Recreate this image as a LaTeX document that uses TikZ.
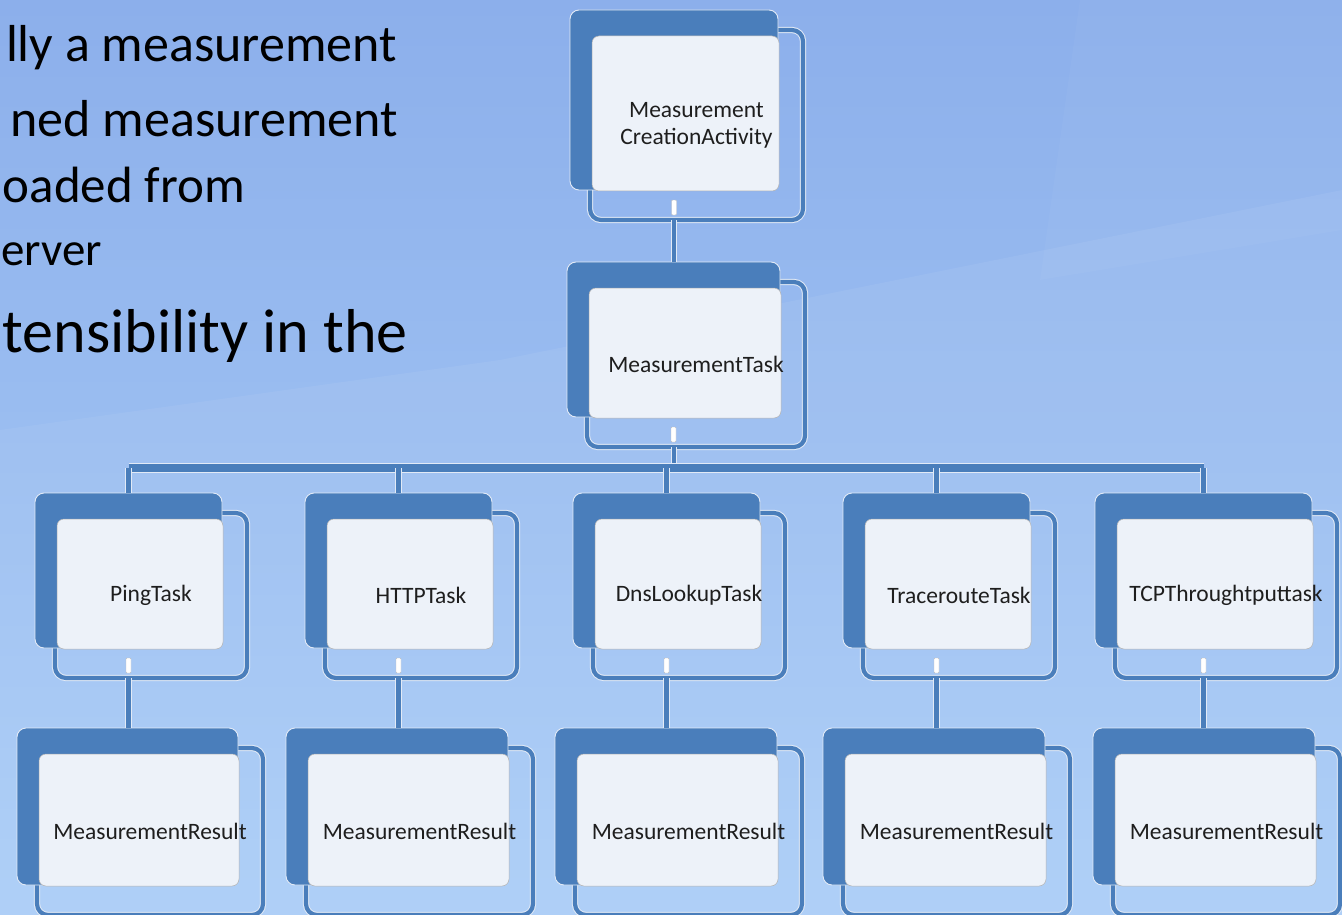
\documentclass[tikz,border=0pt]{standalone}
\usepackage{fontspec}
\setmainfont{Carlito}
\usetikzlibrary{calc}

\definecolor{bgtop}{HTML}{8CAFEB}
\definecolor{bgbot}{HTML}{AACDF7}
\definecolor{accent}{HTML}{4A7EBB}
\definecolor{rim}{HTML}{E2EAF6}
\definecolor{paper}{HTML}{EDF2F9}
\definecolor{ink}{HTML}{1E1E1E}

\tikzset{
  x=1pt, y=-1pt,
  darkbox/.style={rectangle, rounded corners=9pt, fill=accent, draw=rim, line width=0.9pt,
                  inner sep=0pt, outer sep=0pt},
  paperbox/.style={rectangle, rounded corners=7pt, fill=paper, draw=black!30, line width=0.5pt,
                   inner sep=0pt, outer sep=0pt},
  framebox/.style={rectangle, rounded corners=11pt, draw=rim, double=accent, double distance=4.2pt,
                   line width=1pt, inner sep=0pt, outer sep=0pt},
  tabbox/.style={rectangle, rounded corners=1pt, fill=white, draw=black!25, line width=0.4pt,
                 minimum width=5pt, inner sep=0pt, outer sep=0pt},
  caption/.style={text=ink, font=\fontsize{23.5}{27}\selectfont, align=center, inner sep=0pt},
  link/.style={draw=rim, double=accent, double distance=4.4pt, line width=0.9pt},
  busline/.style={draw=rim, double=accent, double distance=8pt, line width=1pt},
  slidetext/.style={text=black, inner sep=0pt, anchor=base east},
}

% a leaf entry: outline frame, back panel, front card and caption
% #1 name, #2 x, #3 y, #4 width, #5 height, #6 caption
\newcommand\leaf[6]{%
  \node[framebox, minimum width=#4+5, minimum height=#5+10, anchor=north west] (#1-f) at (#2+20,#3+20) {};
  \node[darkbox, minimum width=#4, minimum height=#5, anchor=north west] (#1-d) at (#2,#3) {};
  \node[paperbox, minimum width=#4-21, minimum height=#5-25, anchor=north west] (#1-w) at (#2+22,#3+26) {};
  \node[caption] (#1) at (#1-f.center) {#6};
}
% an entry with children also carries the small tab under its card
\newcommand\entry[6]{%
  \leaf{#1}{#2}{#3}{#4}{#5}{#6}
  \node[tabbox, minimum height=15, anchor=north] (#1-t) at (#2+#4/2,#3+#5+10) {};
}

\begin{document}
\begin{tikzpicture}
  \useasboundingbox (0,0) rectangle (1342,915);
  \clip (0,0) rectangle (1342,915);

  % slide background
  \shade[top color=bgtop, bottom color=bgbot] (0,0) rectangle (1342,915);
  \fill[white, opacity=0.06] (0,430) -- (500,360) -- (1342,190) -- (1342,915) -- (0,915) -- cycle;
  \fill[white, opacity=0.03] (1080,0) -- (1342,0) -- (1342,230) -- (1040,280) -- cycle;

  % bullet text on the left
  \node[slidetext, font=\fontsize{52}{60}\selectfont] (l1) at (397,62) {lly a measurement};
  \node[slidetext, font=\fontsize{52}{60}\selectfont] (l2) at (398,137) {ned measurement};
  \node[slidetext, font=\fontsize{51}{60}\selectfont] (l3) at (245,202) {oaded from};
  \node[slidetext, font=\fontsize{47}{60}\selectfont] (l4) at (102,265) {erver};
  \node[slidetext, font=\fontsize{62}{72}\selectfont] (l5) at (408,352) {tensibility in the};

  % hierarchy panels
  \entry{act}{570}{10}{208}{180}{Measurement\\CreationActivity}
  \entry{task}{567}{262}{213}{155}{MeasurementTask}

  \entry{ping}{35}{493}{187}{155}{PingTask}
  \entry{http}{305}{493}{187}{155}{HTTPTask}
  \entry{dns}{573}{493}{187}{155}{DnsLookupTask}
  \entry{trace}{843}{493}{187}{155}{TracerouteTask}
  \entry{tcp}{1095}{493}{217}{155}{TCPThroughtputtask}

  \leaf{res1}{17}{728}{221}{157}{MeasurementResult}
  \leaf{res2}{286}{728}{222}{157}{MeasurementResult}
  \leaf{res3}{555}{728}{222}{157}{MeasurementResult}
  \leaf{res4}{823}{728}{222}{157}{MeasurementResult}
  \leaf{res5}{1093}{728}{222}{157}{MeasurementResult}

  \coordinate (bus) at (0,468);

  % connectors between the panels
  \draw[link] (act-d.south |- act-f.south) -- (act-d.south |- task-d.north);
  \draw[link] (act-d.south |- task-f.south) -- (act-d.south |- bus);
  \draw[busline] (ping-d.north |- bus) -- (tcp-d.north |- bus);
  \foreach \n/\r in {ping/res1,http/res2,dns/res3,trace/res4,tcp/res5}{
    \draw[link] (\n-d.north |- bus) -- (\n-d.north);
    \draw[link] (\n-d.south |- \n-f.south) -- (\n-d.south |- \r-d.north);
  }
\end{tikzpicture}
\end{document}
